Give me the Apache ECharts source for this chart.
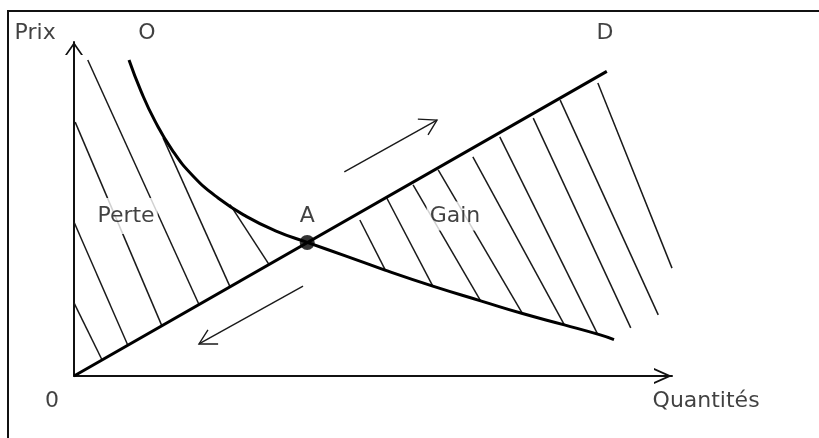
<!DOCTYPE html>
<html>
<head>
<meta charset="utf-8">
<script src="https://cdn.jsdelivr.net/npm/echarts@6/dist/echarts.min.js"></script>
<style>
  html, body { margin: 0; padding: 0; background: #fff; }
  #chart { width: 819px; height: 438px; }
</style>
</head>
<body>
<div id="chart"></div>
<script>
// ---- Data (schematic units: Quantités 0..100, Prix 0..100) ----
const dLine = [[0, 0], [89.1, 91.2]];
const oCurve = [[9.2, 94.6], [11.2, 85.3], [13.55, 76.3], [16.4, 67.7], [19.9, 59.9], [24.1, 53.3],
                [28.8, 47.8], [33.8, 43.4], [39, 40], [45.5, 35.9], [52.0, 31.7], [60.0, 26.9],
                [68.0, 22.5], [75.0, 18.7], [82.0, 15.3], [88.0, 12.3], [90.3, 10.9]];
const pointA = [39, 40];
// hatch segments: [x1, y1, x2, y2]
const hatchPerte = [[0, 21.9, 4.7, 4.8], [0, 46.1, 9.0, 9.2], [0.2, 76.0, 14.7, 15.0],
                    [2.3, 94.6, 20.9, 21.4], [14.9, 71.3, 26.1, 26.7], [26.1, 51.3, 32.6, 33.4]];
const hatchGain = [[47.8, 46.7, 52.0, 31.9], [52.3, 53.3, 60.0, 26.9], [56.7, 57.2, 68.0, 22.5],
                   [60.9, 61.7, 75.0, 18.7], [66.7, 65.6, 82.0, 15.3], [71.2, 71.6, 87.6, 12.4],
                   [76.8, 77.2, 93.1, 14.4], [81.3, 82.6, 97.7, 18.3], [87.6, 87.7, 100, 32.3]];
const arrowUpShaft = [[45.2, 61.1], [60.7, 76.6]];
const arrowUpHead = [[57.5, 76.9], [60.7, 76.6], [59.2, 72.2]];
const arrowDownShaft = [[38.3, 26.9], [20.9, 9.6]];
const arrowDownHead = [[24.1, 9.6], [20.9, 9.6], [22.4, 13.8]];
const labelTexts = ['Prix', 'O', 'D', '0', 'Quantités', 'Perte', 'A', 'Gain'];
const labelX = [-6.5, 12.2, 88.8, -3.7, 105.7, 8.7, 39, 63.7];
const labelY = [102.7, 102.7, 102.7, -7.5, -7.5, 47.9, 47.9, 47.9];
const maskedLabels = ['Perte', 'Gain'];

// ---- Chart ----
const chart = echarts.init(document.getElementById('chart'), null, { renderer: 'canvas' });
const FONT = 'DejaVu Sans';
const ink = '#111';

const hatchData = hatchPerte.concat(hatchGain).map(h => ({ coords: [[h[0], h[1]], [h[2], h[3]]] }));

const labelData = labelTexts.map((t, i) => {
  const item = { name: t, value: [labelX[i], labelY[i]] };
  if (maskedLabels.indexOf(t) >= 0) {
    item.label = { backgroundColor: '#fff', padding: t === 'Perte' ? [7, 3, 7, 3] : [3, 3, 4, 3] };
  }
  return item;
});

const option = {
  animation: false,
  backgroundColor: '#fff',
  graphic: [{
    type: 'polyline', silent: true, z: 0,
    shape: { points: [[8, 440], [8, 11], [821, 11]] },
    style: { stroke: '#111', lineWidth: 2, fill: null }
  }],
  grid: [
    { left: 74, right: 147, top: 42, bottom: 62, outerBoundsMode: 'none' }
  ],
  xAxis: [
    {
      type: 'value', min: 0, max: 100,
      axisLine: {
        show: true, onZero: false,
        lineStyle: { color: ink, width: 2 },
        symbol: ['none', 'path://M8,0 L16,18 L14,18 L8,4.5 L2,18 L0,18 Z'],
        symbolSize: [16, 18],
        symbolOffset: [0, -9]
      },
      axisTick: { show: false }, axisLabel: { show: false }, splitLine: { show: false }
    }
  ],
  yAxis: [
    {
      type: 'value', min: 0, max: 100,
      axisLine: {
        show: true, onZero: false,
        lineStyle: { color: ink, width: 2 },
        symbol: ['none', 'path://M9,0 L18,13 L16,13 L9,2.9 L2,13 L0,13 Z'],
        symbolSize: [18, 13],
        symbolOffset: [0, -6.5]
      },
      axisTick: { show: false }, axisLabel: { show: false }, splitLine: { show: false }
    }
  ],
  series: [
    {
      type: 'lines', coordinateSystem: 'cartesian2d', z: 2,
      clip: false, silent: true,
      lineStyle: { color: '#1a1a1a', width: 1.5, opacity: 1, curveness: 0 },
      data: hatchData
    },
    {
      type: 'lines', coordinateSystem: 'cartesian2d', polyline: true, z: 2,
      clip: false, silent: true,
      lineStyle: { color: '#1a1a1a', width: 1.4, opacity: 1 },
      data: [{ coords: arrowUpShaft }, { coords: arrowUpHead }, { coords: arrowDownShaft }, { coords: arrowDownHead }]
    },
    {
      type: 'line', z: 3, showSymbol: false, clip: false, silent: true,
      lineStyle: { color: '#000', width: 3 },
      data: dLine
    },
    {
      type: 'line', z: 3, showSymbol: false, smooth: 0.5, clip: false, silent: true,
      lineStyle: { color: '#000', width: 3 },
      data: oCurve
    },
    {
      type: 'scatter', z: 4, symbolSize: 15, silent: true,
      itemStyle: { color: '#000' },
      data: [pointA]
    },
    {
      type: 'scatter', z: 6, symbolSize: 1, clip: false, silent: true,
      itemStyle: { color: 'transparent' },
      label: {
        show: true, position: 'inside', formatter: '{b}',
        fontFamily: FONT, fontSize: 22, color: '#111'
      },
      data: labelData
    }
  ]
};
chart.setOption(option);
</script>
</body>
</html>
